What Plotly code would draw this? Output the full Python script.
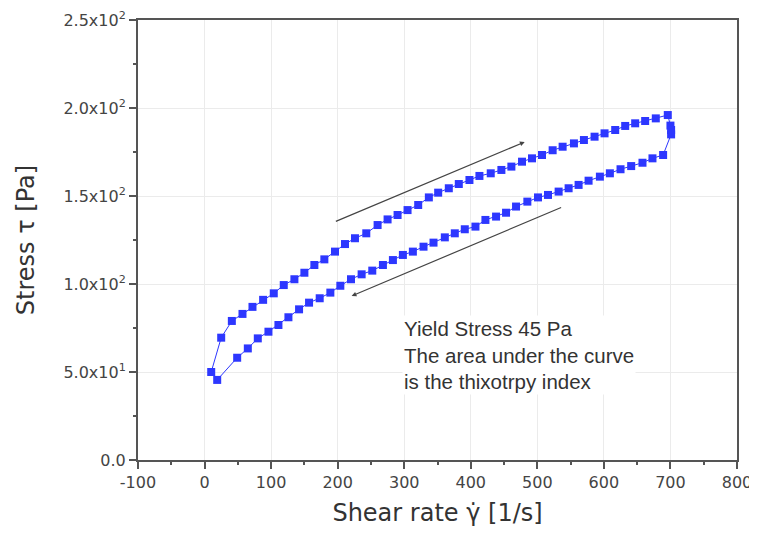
import plotly.graph_objects as go

# Upward sweep (shear rate increasing)
up_x = [10, 25, 41, 57, 72, 88, 104, 119, 135, 150, 165, 180, 196, 211, 226, 243, 260, 275,
        290, 305, 321, 337, 351, 367, 382, 398, 413, 430, 446, 461, 477, 492, 507, 523, 538,
        555, 570, 586, 601, 617, 632, 647, 662, 678, 696]
up_y = [50, 69.5, 79, 83, 87, 91, 94.7, 99.4, 102.7, 106.4, 110.8, 114, 118.4, 122.7, 126,
        128.8, 133.5, 136.7, 139.2, 142, 144.9, 149.2, 151.9, 154.4, 156.8, 159.1, 161.4,
        162.9, 164.8, 166.7, 169.5, 171.4, 173.3, 176, 178, 179.9, 181.8, 183.7, 185.6,
        187.5, 189.8, 191.3, 192.6, 194.1, 196]
# Hold at maximum shear rate
top_x = [700, 701, 701]
top_y = [190, 187.5, 185]
# Downward sweep (shear rate decreasing)
down_x = [689, 673, 658, 641, 625, 609, 594, 577, 562, 547, 532, 516, 501, 485, 468, 453,
          438, 422, 407, 391, 376, 361, 344, 329, 313, 298, 283, 268, 252, 236, 220, 204,
          189, 173, 157, 142, 126, 111, 96, 80, 65, 49, 19]
down_y = [173.3, 171.4, 168.9, 167, 165.2, 162.9, 161, 158.7, 156.3, 154.4, 152.5, 150.6,
          149.2, 146.8, 144, 140.5, 138.3, 136.4, 132.6, 131.1, 128.8, 126.5, 123.5, 121.2,
          118.4, 116.5, 113.6, 110.8, 107.6, 105.5, 102.7, 99, 95.1, 91.9, 89.4, 85.6, 81.1,
          76.7, 72.9, 69.1, 63.4, 58.1, 45.5]

x_all = up_x + top_x + down_x
y_all = up_y + top_y + down_y

y_tickvals = [0, 50, 100, 150, 200, 250]
y_ticktext = ["0.0", "5.0x10<sup>1</sup>", "1.0x10<sup>2</sup>", "1.5x10<sup>2</sup>",
              "2.0x10<sup>2</sup>", "2.5x10<sup>2</sup>"]
x_tickvals = [-100, 0, 100, 200, 300, 400, 500, 600, 700, 800]
x_ticktext = ["-100", "0", "100", "200", "300", "400", "500", "600", "700", "800"]

blue = "rgb(45,55,255)"
fig = go.Figure()
fig.add_trace(go.Scatter(
    x=x_all, y=y_all, mode="lines+markers",
    line=dict(color=blue, width=1),
    marker=dict(symbol="square", size=8, color=blue),
    showlegend=False, cliponaxis=False,
))

tick_fam = "DejaVu Sans, sans-serif"
text_fam = "Liberation Sans, Arial, sans-serif"
axis_common = dict(
    showline=True, linecolor="#555", linewidth=2, mirror=True,
    ticks="outside", ticklen=7, tickwidth=1.5, tickcolor="#555",
    showgrid=True, gridcolor="#ebebeb", gridwidth=1, zeroline=False,
    tickfont=dict(family=tick_fam, size=16, color="#444"),
    automargin=False,
)
fig.update_xaxes(range=[-100, 800], tickvals=x_tickvals, ticktext=x_ticktext,
                 title=dict(text="Shear rate γ̇ [1/s]", font=dict(family=tick_fam, size=24, color="#333"), standoff=13),
                 minor=dict(ticks="outside", ticklen=3, tickwidth=1.5, tickcolor="#555", showgrid=False,
                            tickvals=[-50, 50, 150, 250, 350, 450, 550, 650, 750]),
                 **axis_common)
fig.update_yaxes(range=[0, 250], tickvals=y_tickvals, ticktext=y_ticktext,
                 title=dict(text="Stress τ [Pa]", font=dict(family=tick_fam, size=24, color="#333"), standoff=22),
                 minor=dict(ticks="outside", ticklen=3, tickwidth=1.5, tickcolor="#555", showgrid=False,
                            tickvals=[25, 75, 125, 175, 225]),
                 **axis_common)

arrow_color = "#444"
fig.add_annotation(x=481, y=180.7, ax=195, ay=135.2, xref="x", yref="y", axref="x", ayref="y",
                   showarrow=True, arrowhead=2, arrowsize=0.8, arrowwidth=1.2, arrowcolor=arrow_color, text="")
fig.add_annotation(x=221, y=93.2, ax=538, ay=143.8, xref="x", yref="y", axref="x", ayref="y",
                   showarrow=True, arrowhead=2, arrowsize=0.8, arrowwidth=1.2, arrowcolor=arrow_color, text="")
fig.add_annotation(x=297, y=59.7, xref="x", yref="y", xanchor="left", yanchor="middle",
                   text="Yield Stress 45 Pa<br>The area under the curve<br>is the thixotrpy index",
                   showarrow=False, align="left", bgcolor="white",
                   font=dict(family=text_fam, size=20.5, color="#333"))

# the page body adds an 8px offset, so the figure is sized to fit the 757x543 window
fig.update_layout(
    width=749, height=535,
    margin=dict(l=130, r=20, t=12, b=83),
    paper_bgcolor="white", plot_bgcolor="white",
)
fig.write_html("out.html")
